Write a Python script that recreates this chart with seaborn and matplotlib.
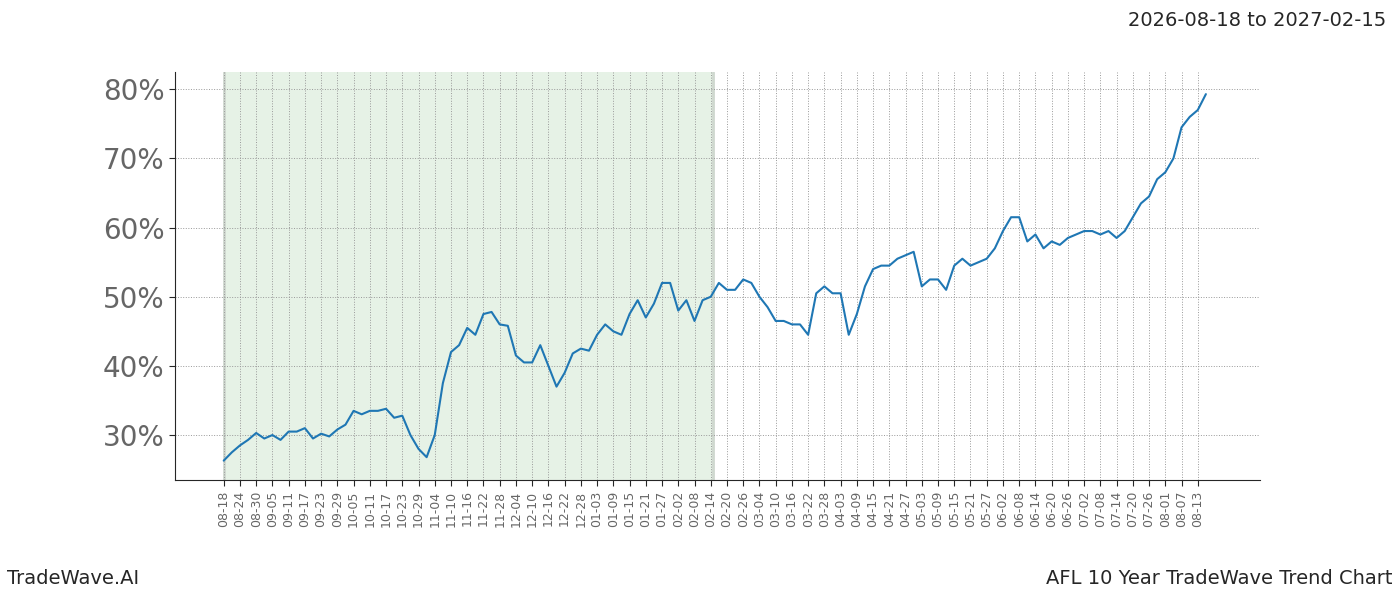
import matplotlib
matplotlib.use("Agg")
import matplotlib.pyplot as plt
import matplotlib.dates as mdates
import seaborn as sns
import pandas as pd
import numpy as np

start = "2026-08-18"
values = [26.3,27.5,28.5,29.3,30.3,29.5,30.0,29.3,30.5,30.5,31.0,29.5,30.2,29.8,30.8,31.5,33.5,33.0,33.5,33.5,
          33.8,32.5,32.8,30.0,28.0,26.8,30.0,37.5,42.0,43.0,45.5,44.5,47.5,47.8,46.0,45.8,41.5,40.5,40.5,43.0,
          40.0,37.0,39.0,41.8,42.5,42.2,44.5,46.0,45.0,44.5,47.5,49.5,47.0,49.0,52.0,52.0,48.0,49.5,46.5,49.5,
          50.0,52.0,51.0,51.0,52.5,52.0,50.0,48.5,46.5,46.5,46.0,46.0,44.5,50.5,51.5,50.5,50.5,44.5,47.5,51.5,
          54.0,54.5,54.5,55.5,56.0,56.5,51.5,52.5,52.5,51.0,54.5,55.5,54.5,55.0,55.5,57.0,59.5,61.5,61.5,58.0,
          59.0,57.0,58.0,57.5,58.5,59.0,59.5,59.5,59.0,59.5,58.5,59.5,61.5,63.5,64.5,67.0,68.0,70.0,74.5,76.0,
          77.0,79.3]
dates = list(pd.date_range(start, periods=len(values), freq="3D"))
df = pd.DataFrame({"date": dates, "value": values})

sns.set_style("white")
fig, ax = plt.subplots(figsize=(14, 6), dpi=100)
fig.subplots_adjust(left=0.125, right=0.9, top=0.88, bottom=0.2)
sns.lineplot(data=df, x="date", y="value", ax=ax, color="#1f77b4", linewidth=1.5)
ax.axvspan(pd.Timestamp("2026-08-18"), pd.Timestamp("2027-02-15"), color="#e6f2e6", zorder=0)
ax.axvline(pd.Timestamp("2026-08-18"), color="#cfd8cf", lw=2, zorder=0)
ax.axvline(pd.Timestamp("2027-02-15"), color="#cfd8cf", lw=2, zorder=0)

ticks = pd.date_range(start, "2027-08-13", freq="6D")
ax.set_xticks(ticks)
ax.xaxis.set_major_formatter(mdates.DateFormatter("%m-%d"))
plt.setp(ax.get_xticklabels(), rotation=90, fontsize=9, color="#666666")
ax.set_yticks([30, 40, 50, 60, 70, 80])
ax.set_yticklabels([f"{v}%" for v in [30, 40, 50, 60, 70, 80]], fontsize=20, color="#666666")
ax.set_xlim(pd.Timestamp(start) - pd.Timedelta(days=18), pd.Timestamp(start) + pd.Timedelta(days=383))
ax.set_ylim(23.5, 82.5)
ax.grid(True, color="#999999", linestyle=":", linewidth=0.7)
ax.set_xlabel(""); ax.set_ylabel("")
for s in ["top", "right"]:
    ax.spines[s].set_visible(False)
ax.tick_params(axis="both", which="both", length=4, left=True, bottom=True)

fig.text(0.99, 0.965, "2026-08-18 to 2027-02-15", ha="right", va="center", fontsize=14)
fig.text(0.005, 0.02, "TradeWave.AI", ha="left", va="bottom", fontsize=14)
fig.text(0.995, 0.02, "AFL 10 Year TradeWave Trend Chart", ha="right", va="bottom", fontsize=14)
fig.savefig("out.png")
